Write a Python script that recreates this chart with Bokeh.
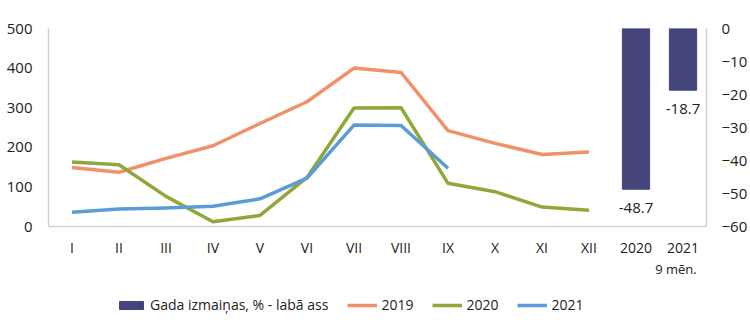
from bokeh.plotting import figure
from bokeh.layouts import column
from bokeh.models import (Range1d, LinearAxis, FixedTicker, Legend, LegendItem,
                          Label, ColumnDataSource, LabelSet)
from bokeh.core.properties import value
from bokeh.embed import file_html
from bokeh.resources import INLINE

months = ["I", "II", "III", "IV", "V", "VI", "VII", "VIII", "IX", "X", "XI", "XII"]
y2019 = [149, 137, 172, 204, 260, 315, 400, 389, 242, 210, 182, 188]
y2020 = [163, 156, 76, 12, 28, 124, 299, 300, 109, 88, 49, 41]
y2021 = [36, 44, 47, 51, 70, 122, 256, 255, 147]
bar_cats = ["2020", "2021"]
bar_sub = "9 mēn."
bar_vals = [-48.7, -18.7]
legend_labels = ["Gada izmaiņas, % - labā ass", "2019", "2020", "2021"]

FONT = "Open Sans"
TXT = "#222222"
C2019 = "#F2906A"
C2020 = "#8EA83A"
C2021 = "#5A9BD8"
CBAR = "#44467B"

xr = Range1d(-0.5, 13.5)
p = figure(frame_width=658, frame_height=198, output_backend="svg", toolbar_location=None,
           x_range=xr, y_range=Range1d(0, 500),
           min_border_left=48, min_border_right=44, min_border_top=28,
           min_border_bottom=32)
p.outline_line_color = None
p.xgrid.visible = False
p.ygrid.visible = False
p.background_fill_color = None
p.border_fill_color = "white"

p.extra_y_ranges = {"right": Range1d(-60, 0)}

xm = list(range(len(months)))
xb = [12 + i for i in range(len(bar_cats))]

p.vbar(x=xb, top=0, bottom=bar_vals, width=0.58, color=CBAR, y_range_name="right")
p.line(xm, y2019, line_color=C2019, line_width=3.5, line_join="round")
p.line(xm, y2020, line_color=C2020, line_width=3.5, line_join="round")
p.line(xm[:len(y2021)], y2021, line_color=C2021, line_width=3.5, line_join="round")

src = ColumnDataSource(dict(x=xb, y=bar_vals, t=[f"{v:.1f}" for v in bar_vals]))
p.add_layout(LabelSet(x="x", y="y", text="t", source=src, y_range_name="right",
                      text_align="center", text_baseline="middle", y_offset=-19,
                      text_font=value(FONT), text_font_size=value("15px"),
                      text_color=TXT))

# x axis
xa = p.xaxis[0]
xa.ticker = FixedTicker(ticks=xm + xb)
ov = {i: m for i, m in enumerate(months)}
ov.update({xb[i]: c for i, c in enumerate(bar_cats)})
xa.major_label_overrides = ov
xa.major_tick_line_color = None
xa.minor_tick_line_color = None
xa.major_tick_out = 0
xa.major_tick_in = 0
xa.axis_line_color = "#D0D0D0"
xa.axis_line_width = 1.5
xa.major_label_text_font = FONT
xa.major_label_text_font_size = "14px"
xa.major_label_text_color = TXT
xa.major_label_standoff = 11

# left axis
ya = p.yaxis[0]
ya.ticker = FixedTicker(ticks=[0, 100, 200, 300, 400, 500])
ya.major_tick_line_color = None
ya.minor_tick_line_color = None
ya.major_tick_out = 0
ya.major_tick_in = 0
ya.axis_line_color = "#D0D0D0"
ya.axis_line_width = 1.5
ya.major_label_text_font = FONT
ya.major_label_text_font_size = "15px"
ya.major_label_text_color = TXT
ya.major_label_standoff = 16

ra = LinearAxis(y_range_name="right", ticker=FixedTicker(ticks=[0, -10, -20, -30, -40, -50, -60]))
ra.major_tick_line_color = None
ra.minor_tick_line_color = None
ra.major_tick_out = 0
ra.major_tick_in = 0
ra.axis_line_color = "#D0D0D0"
ra.axis_line_width = 1.5
ra.major_label_text_font = FONT
ra.major_label_text_font_size = "15px"
ra.major_label_text_color = TXT
ra.major_label_standoff = 15
p.add_layout(ra, "right")

# bottom strip: sub-label and legend
p2 = figure(frame_width=658, frame_height=70, output_backend="svg", toolbar_location=None,
            x_range=xr, y_range=Range1d(0, 70), x_axis_location=None, y_axis_location=None,
            min_border_left=48, min_border_right=44, min_border_top=0, min_border_bottom=0)
p2.outline_line_color = None
p2.xgrid.visible = False
p2.ygrid.visible = False
p2.background_fill_color = None
p2.border_fill_color = "white"
# off-screen range so the legend's source renderers are not visible in this strip
p2.extra_y_ranges = {"hide": Range1d(5000, 6000)}

p2.add_layout(Label(x=xb[1] - 0.15, y=61, text=bar_sub, text_align="center",
                    text_baseline="middle", text_font=FONT, text_font_size="13px",
                    text_color=TXT))

rb = p2.vbar(x=xb, top=0, bottom=bar_vals, width=0.58, color=CBAR, y_range_name="hide")
r19 = p2.line(xm, y2019, line_color=C2019, line_width=3.5, y_range_name="hide")
r20 = p2.line(xm, y2020, line_color=C2020, line_width=3.5, y_range_name="hide")
r21 = p2.line(xm[:len(y2021)], y2021, line_color=C2021, line_width=3.5, y_range_name="hide")

legend = Legend(items=[LegendItem(label=l, renderers=[r]) for l, r in
                       zip(legend_labels, [rb, r19, r20, r21])],
                orientation="horizontal", location=(68, 15))
legend.border_line_color = None
legend.background_fill_color = None
legend.label_text_font = FONT
legend.label_text_font_size = "14px"
legend.label_text_color = TXT
legend.label_height = 16
legend.glyph_width = 30
legend.glyph_height = 10
legend.spacing = 19
legend.label_standoff = 4
legend.padding = 4
legend.margin = 0
p2.add_layout(legend)

open("out.html", "w").write(file_html(column(p, p2, spacing=0), INLINE))
